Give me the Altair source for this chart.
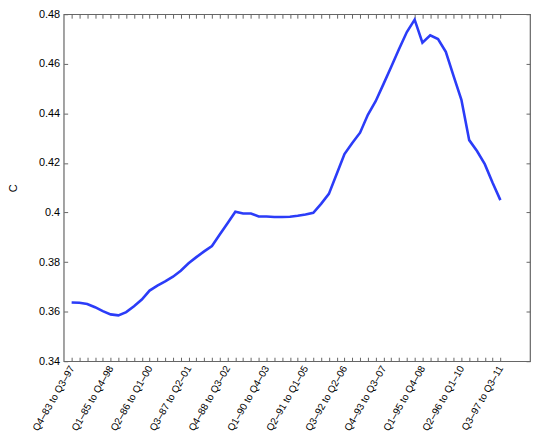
import altair as alt
import pandas as pd

# rolling window index (one quarter apart)
window_index = list(range(56))
c_values = [
    0.3637, 0.3636, 0.3631, 0.3618, 0.3602, 0.3589, 0.3585, 0.3598, 0.3622, 0.3649,
    0.3685, 0.3705, 0.3722, 0.3741, 0.3765, 0.3795, 0.3820, 0.3843, 0.3865, 0.3911,
    0.3957, 0.4003, 0.3996, 0.3996, 0.3984, 0.3984, 0.3982, 0.3982, 0.3983, 0.3987,
    0.3992, 0.3999, 0.4035, 0.4075, 0.4155, 0.4236, 0.4280, 0.4322, 0.4394, 0.4449,
    0.4518, 0.4588, 0.4660, 0.4728, 0.4778, 0.4685, 0.4715, 0.4700, 0.4648, 0.4550,
    0.4455, 0.4292, 0.4248, 0.4195, 0.4120, 0.4050,
]
tick_labels = [
    "Q4–83 to Q3–97", "Q1–85 to Q4–98", "Q2–86 to Q1–00", "Q3–87 to Q2–01",
    "Q4–88 to Q3–02", "Q1–90 to Q4–03", "Q2–91 to Q1–05", "Q3–92 to Q2–06",
    "Q4–93 to Q3–07", "Q1–95 to Q4–08", "Q2–96 to Q1–10", "Q3–97 to Q3–11",
]
y_ticks = [0.34, 0.36, 0.38, 0.40, 0.42, 0.44, 0.46, 0.48]

df = pd.DataFrame({"i": window_index, "C": c_values})

W, H = 469, 349
FONT = "Liberation Sans"
AX = "#666666"

label_expr = "[" + ",".join("'" + t + "'" for t in tick_labels) + "][round(datum.value / 5)]"
labelled = [5 * k for k in range(len(tick_labels))]

xscale = alt.Scale(domain=[-1.02, 58.8], nice=False, zero=False)
yscale = alt.Scale(domain=[0.34, 0.48], nice=False, zero=False)

base = alt.Chart(df)

main = base.mark_line(color="#2b3cf8", strokeWidth=2.6).encode(
    x=alt.X("i:Q", scale=xscale, axis=alt.Axis(
        orient="bottom", values=labelled, labelExpr=label_expr, ticks=False,
        domain=False, grid=False, title=None, labelAngle=-60, labelAlign="right",
        labelBaseline="middle", labelPadding=5, labelFont=FONT, labelFontSize=10,
        labelColor="black", labelOverlap=False, labelBound=False, labelFlush=False)),
    y=alt.Y("C:Q", scale=yscale, axis=alt.Axis(
        orient="left", values=y_ticks, format=".2~f", ticks=False, domain=False,
        grid=False, labelPadding=4, labelFont=FONT, labelFontSize=11,
        labelColor="black", title="C", titleFont=FONT, titleFontSize=11,
        titleFontWeight="normal", titleColor="black", titleX=-50.5, titleY=174.5,
        titleAlign="center", titleBaseline="middle", labelFlush=False)),
)

# inward ticks: bottom edge and left edge
ticks_a = base.mark_line(opacity=0).encode(
    x=alt.X("i:Q", scale=xscale, axis=alt.Axis(
        orient="top", offset=-H, values=window_index, labels=False, domain=False,
        grid=False, title=None, ticks=True, tickSize=4, tickColor=AX)),
    y=alt.Y("C:Q", scale=yscale, axis=alt.Axis(
        orient="right", offset=-W, values=y_ticks, labels=False, domain=False,
        grid=False, title=None, ticks=True, tickSize=4, tickColor=AX)),
)

# inward ticks: top edge and right edge
ticks_b = base.mark_line(opacity=0).encode(
    x=alt.X("i:Q", scale=xscale, axis=alt.Axis(
        orient="bottom", offset=-H, values=window_index, labels=False, domain=False,
        grid=False, title=None, ticks=True, tickSize=4, tickColor=AX)),
    y=alt.Y("C:Q", scale=yscale, axis=alt.Axis(
        orient="left", offset=-W, values=y_ticks, labels=False, domain=False,
        grid=False, title=None, ticks=True, tickSize=4, tickColor=AX)),
)

chart = (
    alt.layer(main, ticks_a, ticks_b)
    .resolve_axis(x="independent", y="independent")
    .properties(
        width=W, height=H,
        autosize=alt.AutoSizeParams(type="none"),
        padding={"left": 56, "top": 5, "right": 2, "bottom": 80},
        background="white",
    )
    .configure_view(stroke=AX, strokeWidth=1.2)
)

chart.save("out.html", embed_options={"renderer": "svg", "actions": False})
